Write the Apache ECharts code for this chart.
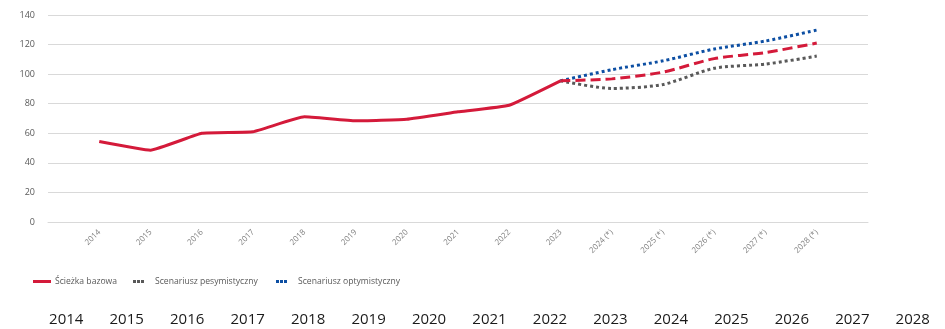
<!DOCTYPE html>
<html>
<head>
<meta charset="utf-8">
<script src="https://cdn.jsdelivr.net/npm/echarts@6/dist/echarts.min.js"></script>
<style>
html,body{margin:0;padding:0;background:#fff;}
#chart{width:945px;height:329px;}
</style>
</head>
<body>
<div id="chart"></div>
<script>
// Categories (years) and the three paths
const years = ['2014','2015','2016','2017','2018','2019','2020','2021','2022','2023','2024 (*)','2025 (*)','2026 (*)','2027 (*)','2028 (*)'];
const bottomYears = ['2014','2015','2016','2017','2018','2019','2020','2021','2022','2023','2024','2025','2026','2027','2028'];
const baseHistory = [54.5, 48.6, 60, 61, 71.1, 68.4, 69.5, 74.5, 79, 95.5, null, null, null, null, null];
const baseForecast = [null, null, null, null, null, null, null, null, null, 95.5, 96.8, 101.4, 110.5, 114.6, 121];
const pessimistic = [null, null, null, null, null, null, null, null, null, 95.5, 90.3, 93, 104, 106.8, 112.2];
const optimistic = [null, null, null, null, null, null, null, null, null, 95.5, 103, 109, 117, 122.4, 129.8];
const yTicks = { min: 0, max: 140, interval: 20 };

// empty slot on each side of the year axis
const pad = arr => [null].concat(arr, [null]);
const cats = [''].concat(years, ['']);

const RED = '#d41a3a', GREY = '#595959', BLUE = '#0d4fa3';
const FONT = '"Open Sans", "Noto Sans", sans-serif';
const DOTS = 'path://M0,0h3v3h-3zM4,0h3v3h-3zM8,0h3v3h-3z';
const legendText = { color: '#595959', fontSize: 8.6, fontFamily: FONT };

const chart = echarts.init(document.getElementById('chart'), null, {renderer: 'canvas'});
chart.setOption({
  animation: false,
  textStyle: { fontFamily: FONT },
  grid: [
    { left: 48, right: 77, top: 15, bottom: 107 },
    { left: 36, right: 2, top: 305, height: 1 }
  ],
  legend: [
    {
      data: [{ name: 'Ścieżka bazowa', icon: 'rect' }],
      left: 33, top: 277, padding: 0, itemWidth: 18, itemHeight: 3,
      textStyle: Object.assign({ padding: [0, 0, 0, -1] }, legendText)
    },
    {
      data: [{ name: 'Scenariusz pesymistyczny', icon: DOTS }],
      left: 133, top: 277, padding: 0, itemWidth: 11, itemHeight: 3,
      textStyle: Object.assign({ padding: [0, 0, 0, 6] }, legendText)
    },
    {
      data: [{ name: 'Scenariusz optymistyczny', icon: DOTS }],
      left: 276, top: 277, padding: 0, itemWidth: 11, itemHeight: 3,
      textStyle: Object.assign({ padding: [0, 0, 0, 6] }, legendText)
    }
  ],
  xAxis: [
    {
      type: 'category', gridIndex: 0, data: cats, boundaryGap: false,
      axisLine: { show: true, lineStyle: { color: '#d9d9d9' } },
      axisTick: { show: false },
      axisLabel: { rotate: 45, interval: 0, color: '#7f7f7f', fontSize: 8, margin: 9 },
      splitLine: { show: false }
    },
    {
      type: 'category', gridIndex: 1, data: bottomYears, boundaryGap: true,
      axisLine: { show: false }, axisTick: { show: false },
      axisLabel: { interval: 0, color: '#1a1a1a', fontSize: 15, margin: 6 },
      splitLine: { show: false }
    }
  ],
  yAxis: [
    {
      type: 'value', gridIndex: 0, min: yTicks.min, max: yTicks.max, interval: yTicks.interval,
      axisLine: { show: false }, axisTick: { show: false },
      axisLabel: { color: '#595959', fontSize: 9, margin: 13 },
      splitLine: { lineStyle: { color: '#d9d9d9', width: 1 } }
    },
    { type: 'value', gridIndex: 1, show: false }
  ],
  series: [
    {
      name: 'Scenariusz pesymistyczny', type: 'line', data: pad(pessimistic),
      symbol: 'none', smooth: 0.25,
      lineStyle: { color: GREY, width: 3, type: [3, 3] },
      itemStyle: { color: GREY }, z: 2
    },
    {
      name: 'Scenariusz optymistyczny', type: 'line', data: pad(optimistic),
      symbol: 'none', smooth: 0.25,
      lineStyle: { color: BLUE, width: 3, type: [3, 3] },
      itemStyle: { color: BLUE }, z: 2
    },
    {
      name: 'Ścieżka bazowa (prognoza)', type: 'line', data: pad(baseForecast),
      symbol: 'none', smooth: 0.25,
      lineStyle: { color: RED, width: 3, type: [10, 5] },
      itemStyle: { color: RED }, z: 3
    },
    {
      name: 'Ścieżka bazowa', type: 'line', data: pad(baseHistory),
      symbol: 'none', smooth: 0.1,
      lineStyle: { color: RED, width: 3 },
      itemStyle: { color: RED }, z: 4
    }
  ]
});
</script>
</body>
</html>
